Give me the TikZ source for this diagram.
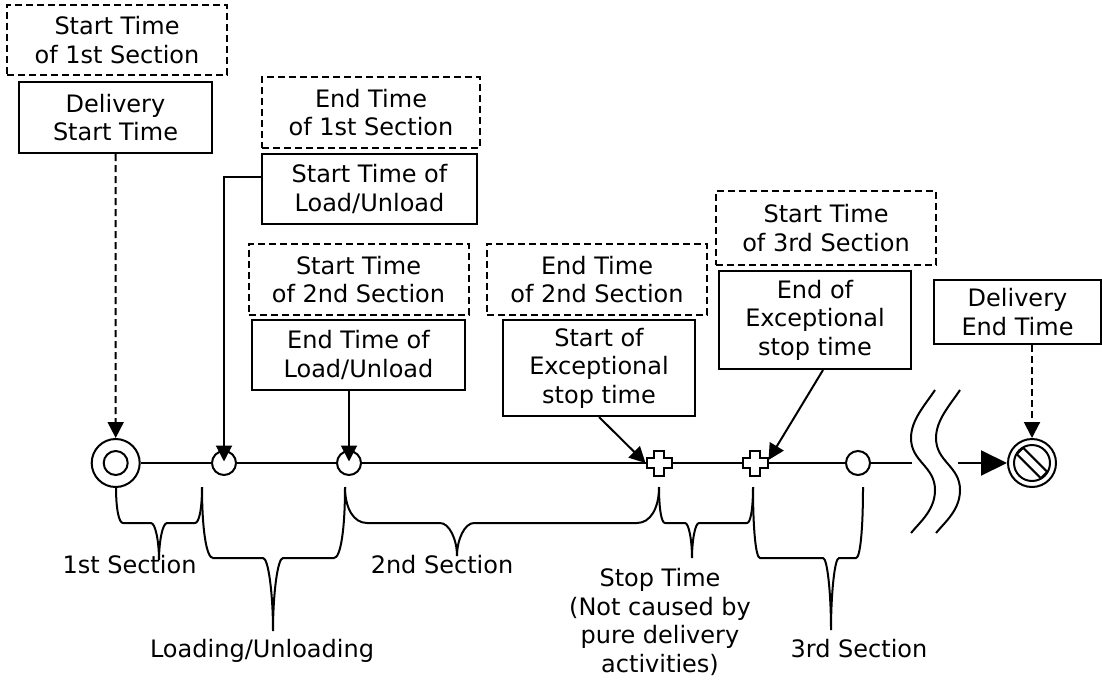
\documentclass[tikz,border=0pt]{standalone}
\usepackage{fontspec}
\setmainfont{DejaVu Sans}
\usepackage{tikz}
\usetikzlibrary{arrows.meta, positioning, calc}

\begin{document}
\begin{tikzpicture}[
        x=1pt, y=-1pt,
        line width=2pt,
        font=\fontsize{24}{28.5}\selectfont,
        evt/.style={
            rectangle,
            draw,
            fill=white,
            align=center,
            inner sep=0pt,
            minimum width=#1
        },
        tag/.style={
            rectangle,
            draw,
            dash pattern=on 7pt off 4pt,
            align=center,
            inner sep=0pt,
            minimum width=220pt,
            minimum height=71pt
        },
        pt/.style={circle, draw, fill=white, inner sep=0pt, minimum size=24pt},
        start/.style={circle, draw, fill=white, inner sep=0pt, minimum size=48pt},
        finish/.style={circle, draw, fill=white, inner sep=0pt, minimum size=48pt},
        stopmark/.style={rectangle, inner sep=0pt, minimum size=25pt},
        arr/.style={-{Triangle[length=16pt, width=16pt]}},
        dashedline/.style={dash pattern=on 7pt off 4pt}
    ]
    \useasboundingbox (0,0) rectangle (1102,680);

    % Events on the time line
    \node[evt=193pt, minimum height=71pt] (ds) at (115.5,117.5) {Delivery\\Start Time};
    \node[tag, above=5pt of ds, xshift=1.5pt, minimum height=70pt] (ts1) {Start Time\\of 1st Section};

    \node[evt=215pt, minimum height=70pt] (sl) at (369.5,189) {Start Time of\\Load/Unload};
    \node[tag, above=4pt of sl, xshift=1.5pt, minimum width=218pt] (te1) {End Time\\of 1st Section};

    \node[evt=213pt, minimum height=70pt] (el) at (358.5,355) {End Time of\\Load/Unload};
    \node[tag, above=3pt of el] (ts2) {Start Time\\of 2nd Section};

    \node[evt=192pt, minimum height=96pt] (se) at (599,368) {Start of\\Exceptional\\stop time};
    \node[tag, above=3pt of se, xshift=-2pt] (te2) {End Time\\of 2nd Section};

    \node[evt=192pt, minimum height=98pt] (ee) at (815,320) {End of\\Exceptional\\stop time};
    \node[tag, above=4pt of ee, xshift=11pt, minimum height=74pt] (ts3) {Start Time\\of 3rd Section};

    \node[evt=167pt, minimum height=64pt] (de) at (1017.5,312) {Delivery\\End Time};

    % Time line
    \node[start] (dbl) at (115.7,463) {};
    \node[pt] (c1) at (224,463) {};
    \node[pt] (c2) at (349,463) {};
    \node[stopmark] (x1) at (659,463) {};
    \node[stopmark] (x2) at (755,463) {};
    \node[pt] (c3) at (858,463) {};
    \node[finish] (fin) at (1032,463) {};
    \coordinate (gap1) at (912,463);
    \coordinate (gap2) at (958,463);

    \draw (dbl.center) circle (12pt);
    \draw (fin.center) circle (18pt);
    \draw[rotate around={-45:(fin.center)}] ($(fin.center)+(-17,-4.5)$) rectangle ($(fin.center)+(17,4.5)$);

    \draw (dbl) -- (c1) -- (c2) -- (x1) -- (x2) -- (c3) -- (gap1);
    \draw[-{Triangle[length=26pt, width=25pt]}] (gap2) -- (fin);

    \foreach \s in {x1, x2}
        \draw[fill=white] (\s.center) ++(-5,-12.5) -- ++(10,0) -- ++(0,7.5) -- ++(7.5,0) -- ++(0,10)
            -- ++(-7.5,0) -- ++(0,7.5) -- ++(-10,0) -- ++(0,-7.5) -- ++(-7.5,0) -- ++(0,-10) -- ++(7.5,0) -- cycle;

    % Break in the line
    \foreach \dx in {0,25}
        \draw[shift={(\dx,0)}] (935,390) .. controls (925,405) and (911,420) .. (911,438)
            .. controls (911,462) and (935,466) .. (935,490)
            .. controls (935,510) and (920,522) .. (911,533);

    % Connectors
    \draw[arr, dashedline] (ds.south) -- (dbl.north);
    \draw[arr, shorten >=1.5pt] ([yshift=12pt]sl.west) -| (c1.center);
    \draw[arr, shorten >=1.5pt] (el.south -| c2) -- (c2.center);
    \draw[arr] (se.south) -- (x1.west);
    \draw[arr] ([xshift=8pt]ee.south) -- ([yshift=3pt]x2.east);
    \draw[arr, dashedline] (de.south -| fin) -- (fin.north);

    % Braces below the line
    \foreach \l/\r/\m/\h/\e/\w/\t in {116/202/159/523/560/7/8, 202/345/273/558/631/11/10,
            345/659/457/523/556/22/17, 659/753/692/523/558/6/7, 753/863/831/558/630/7/8}
        \draw (\l,487) .. controls (\l,{487+0.6*(\h-487)}) and ({\l+0.4*\w},\h) .. ({\l+\w},\h)
            -- ({\m-\t},\h) .. controls ({\m-0.45*\t},\h) and (\m,{\h+0.5*(\e-\h)}) .. (\m,\e)
            .. controls (\m,{\h+0.5*(\e-\h)}) and ({\m+0.45*\t},\h) .. ({\m+\t},\h)
            -- ({\r-\w},\h) .. controls ({\r-0.4*\w},\h) and (\r,{487+0.6*(\h-487)}) .. (\r,487);

    % Section labels
    \node[anchor=base] (sec1) at (129.5,573) {1st Section};
    \node[anchor=base] (load) at (262,657) {Loading/Unloading};
    \node[anchor=base] (sec2) at (442,573) {2nd Section};
    \node[align=center] (stop) at (660,622) {Stop Time\\(Not caused by\\pure delivery\\activities)};
    \node[anchor=base] (sec3) at (859,657) {3rd Section};

\end{tikzpicture}
\end{document}
